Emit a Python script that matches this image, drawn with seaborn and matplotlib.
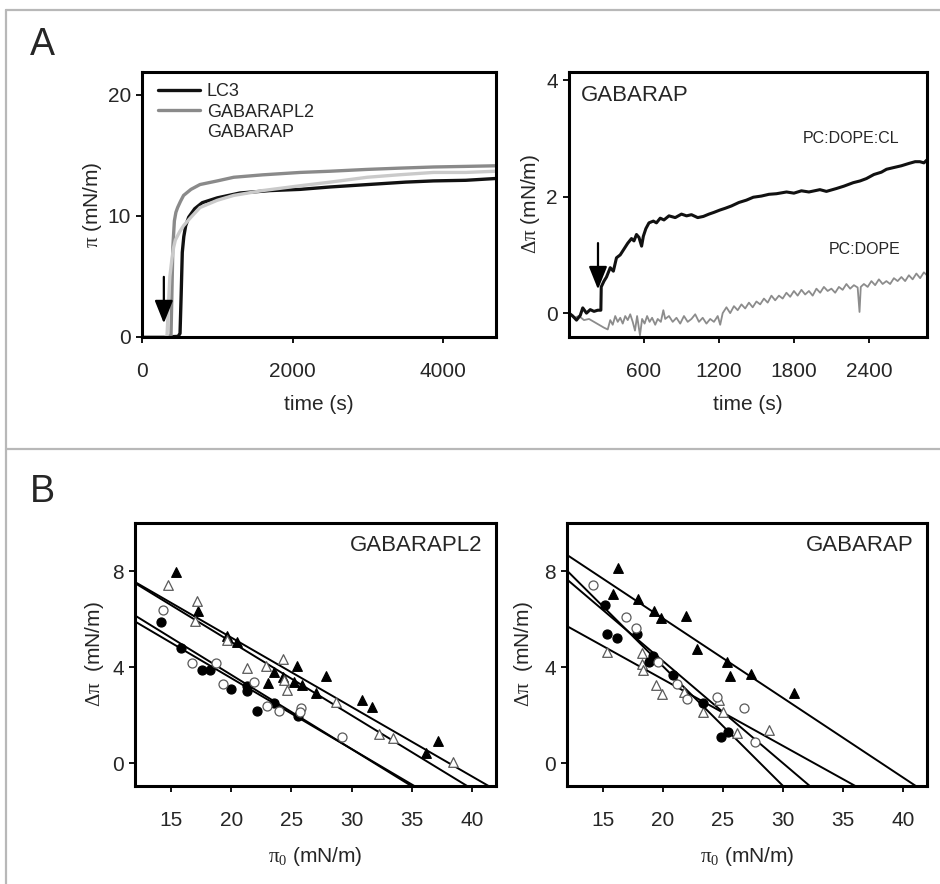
import numpy as np
import matplotlib
matplotlib.use("Agg")
import matplotlib.pyplot as plt
from matplotlib.lines import Line2D
import pandas as pd
import seaborn as sns

sns.set_style("ticks")
plt.rcParams['font.family'] = ['Liberation Sans Narrow', 'Liberation Sans', 'DejaVu Sans']
plt.rcParams['mathtext.fontset'] = 'custom'
plt.rcParams['mathtext.rm'] = 'Liberation Serif'
plt.rcParams['mathtext.it'] = 'Liberation Serif'

# ---- panel A, left: surface pressure kinetics (pi, mN/m) ----
lc3_t = [0, 300, 480, 505, 520, 535, 555, 580, 620, 700, 800, 1000, 1300, 1700,
         2100, 2500, 3000, 3500, 3870, 4300, 4700]
lc3_pi = [0, 0, 0.05, 0.3, 3.5, 7.0, 8.3, 9.2, 9.9, 10.6, 11.1, 11.5, 11.9, 12.1,
          12.2, 12.4, 12.6, 12.8, 12.9, 12.95, 13.1]

l2_t = [0, 300, 385, 395, 410, 430, 450, 473, 510, 552, 650, 770, 1000, 1217,
        1600, 2100, 2500, 2988, 3400, 3870, 4300, 4700]
l2_pi = [0, 0, 0.1, 3.0, 7.5, 9.6, 10.3, 10.7, 11.2, 11.7, 12.2, 12.6, 12.9, 13.2,
         13.4, 13.6, 13.7, 13.85, 13.95, 14.05, 14.1, 14.15]

gab_t = [0, 300, 332, 350, 370, 398, 420, 442, 500, 552, 650, 770, 1000, 1217,
         1600, 2100, 2500, 2988, 3400, 3870, 4300, 4700]
gab_pi = [0, 0, 0.1, 2.5, 5.0, 6.5, 7.4, 8.0, 8.7, 9.2, 9.9, 10.7, 11.3, 11.7,
          12.1, 12.5, 12.8, 13.2, 13.4, 13.6, 13.6, 13.7]

a_left_names = ["LC3", "GABARAPL2", "GABARAP"]
a_left_colors = ["#111111", "#8a8a8a", "#cacaca"]
a_left_inject = 290          # arrow, s
a_left_arrow_pi = (5.2, 0.9)

# ---- panel A, right: GABARAP insertion (delta pi, mN/m) ----
cl_t = [0, 30, 60, 90, 110, 140, 170, 200, 230, 255, 258, 280, 300, 330, 355,
        380, 410, 440, 470, 500, 520, 540, 560, 581, 595, 615, 640, 675, 700,
        730, 760, 800, 850, 900, 941, 980, 1030, 1075, 1120, 1160, 1208, 1250,
        1300, 1360, 1420, 1475, 1540, 1600, 1660, 1741, 1800, 1860, 1920, 2008,
        2060, 2141, 2200, 2275, 2330, 2380, 2440, 2500, 2541, 2600, 2660, 2720,
        2770, 2808, 2840, 2865]
cl_dpi = [0.0, -0.05, -0.12, -0.04, 0.09, 0.0, 0.06, 0.03, 0.05, 0.05, 0.45,
          0.55, 0.62, 0.78, 0.72, 0.95, 1.0, 1.1, 1.2, 1.28, 1.24, 1.35, 1.3,
          1.15, 1.32, 1.45, 1.55, 1.58, 1.55, 1.63, 1.6, 1.67, 1.64, 1.7, 1.67,
          1.69, 1.64, 1.66, 1.7, 1.73, 1.77, 1.8, 1.84, 1.9, 1.94, 1.99, 2.01,
          2.04, 2.05, 2.08, 2.06, 2.1, 2.08, 2.12, 2.09, 2.14, 2.18, 2.24,
          2.27, 2.31, 2.38, 2.42, 2.47, 2.5, 2.53, 2.57, 2.6, 2.6, 2.58, 2.63]

dope_t = [0, 40, 80, 120, 160, 200, 240, 280, 310, 330, 350, 370, 390, 410,
          430, 450, 470, 490, 510, 528, 545, 568, 585, 605, 625, 645, 665, 690,
          710, 735, 755, 770, 800, 830, 860, 890, 920, 950, 980, 1010, 1040,
          1070, 1100, 1130, 1160, 1190, 1210, 1230, 1260, 1290, 1320, 1350,
          1380, 1410, 1440, 1470, 1500, 1530, 1560, 1590, 1620, 1650, 1680,
          1710, 1740, 1770, 1800, 1830, 1860, 1890, 1920, 1950, 1980, 2010,
          2040, 2070, 2100, 2130, 2160, 2190, 2220, 2250, 2280, 2310, 2325,
          2335, 2360, 2390, 2420, 2450, 2480, 2510, 2540, 2570, 2600, 2630,
          2660, 2690, 2720, 2750, 2780, 2810, 2840, 2865]
dope_dpi = [-0.02, -0.08, -0.05, -0.12, -0.1, -0.15, -0.2, -0.25, -0.28,
            -0.12, -0.2, -0.05, -0.15, -0.08, -0.18, -0.05, -0.12, -0.02,
            -0.15, -0.3, -0.05, -0.38, -0.1, -0.18, -0.05, -0.15, -0.08, -0.2,
            -0.1, -0.15, 0.05, -0.1, -0.05, -0.15, -0.08, -0.18, -0.05, -0.15,
            -0.1, -0.02, -0.15, -0.08, -0.18, -0.1, -0.15, -0.05, -0.2, 0.0,
            0.1, 0.0, 0.12, 0.05, 0.15, 0.08, 0.18, 0.1, 0.2, 0.15, 0.25, 0.18,
            0.3, 0.22, 0.3, 0.25, 0.35, 0.28, 0.38, 0.3, 0.4, 0.32, 0.38, 0.3,
            0.42, 0.35, 0.45, 0.38, 0.42, 0.35, 0.45, 0.4, 0.5, 0.42, 0.48,
            0.44, 0.02, 0.45, 0.5, 0.45, 0.55, 0.48, 0.58, 0.5, 0.55, 0.5, 0.6,
            0.55, 0.62, 0.55, 0.65, 0.58, 0.68, 0.6, 0.7, 0.65]
a_right_inject = 232
a_right_arrow_dpi = (1.25, 0.36)

# ---- panel B: delta pi vs initial pressure pi0 ----
l2_ftri_x = [15.38, 17.26, 19.62, 20.45, 23.55, 23.03, 25.44, 25.2, 25.9, 24.28,
             27.85, 27.05, 30.9, 31.67, 37.16, 36.16]
l2_ftri_y = [7.94, 6.35, 5.31, 5.03, 3.81, 3.33, 4.05, 3.36, 3.25, 3.6,
             3.64, 2.92, 2.63, 2.32, 0.93, 0.42]
l2_otri_x = [14.77, 17.13, 17.01, 19.67, 21.28, 22.89, 24.33, 24.39, 24.61,
             28.68, 32.31, 33.47, 38.46]
l2_otri_y = [7.43, 6.74, 5.93, 5.13, 3.95, 4.03, 4.33, 3.47, 3.03,
             2.53, 1.21, 1.03, 0.03]
l2_fcir_x = [14.13, 15.82, 17.54, 18.23, 19.99, 21.34, 21.34, 22.12, 23.55, 25.58]
l2_fcir_y = [5.89, 4.79, 3.89, 3.89, 3.08, 3.22, 2.99, 2.18, 2.5, 1.97]
l2_ocir_x = [14.35, 16.77, 18.73, 19.29, 21.92, 22.95, 23.97, 25.8, 25.7, 29.18]
l2_ocir_y = [6.39, 4.19, 4.19, 3.29, 3.39, 2.39, 2.18, 2.28, 2.14, 1.07]
# fitted lines: x-intercept (max. insertion pressure) and slope
l2_mip = [38.1, 36.5, 31.9, 32.0]
l2_slope = [-0.289, -0.306, -0.309, -0.295]

gb_ftri_x = [16.28, 15.81, 17.89, 19.28, 19.81, 21.89, 22.81, 25.31, 25.58, 27.31, 30.92]
gb_ftri_y = [8.11, 7.03, 6.82, 6.35, 6.03, 6.13, 4.75, 4.22, 3.64, 3.71, 2.93]
gb_otri_x = [15.36, 18.22, 18.22, 18.36, 19.39, 19.89, 21.78, 24.69, 23.36, 25.03,
             26.19, 28.83]
gb_otri_y = [4.64, 4.57, 4.11, 3.9, 3.25, 2.9, 2.95, 2.65, 2.14, 2.14, 1.24, 1.4]
gb_fcir_x = [15.17, 15.36, 16.19, 17.81, 19.19, 18.86, 20.81, 23.36, 25.44, 24.81]
gb_fcir_y = [6.58, 5.38, 5.2, 5.38, 4.46, 4.2, 3.69, 2.51, 1.31, 1.1]
gb_ocir_x = [14.19, 16.92, 17.75, 19.61, 21.19, 22.03, 24.47, 26.75, 27.67]
gb_ocir_y = [7.42, 6.07, 5.61, 4.22, 3.29, 2.69, 2.74, 2.28, 0.89]
gb_mip = [38.2, 32.6, 28.1, 30.0]
gb_slope = [-0.331, -0.277, -0.498, -0.425]

TICK_FS = 15
LABEL_FS = 15
SANS = ['Liberation Sans', 'DejaVu Sans']
ARROW = dict(arrowstyle='-|>,head_width=0.4,head_length=1.0', color='black',
             lw=1.6, mutation_scale=14)


def style_box(ax):
    for s in ax.spines.values():
        s.set_visible(True)
        s.set_linewidth(2.2)
        s.set_color('black')
    ax.tick_params(direction='out', length=4, width=1.3, labelsize=TICK_FS,
                   color='black')
    ax.tick_params(axis='x', pad=14)
    ax.tick_params(axis='y', pad=4)


def plot_kinetics(ax):
    df = pd.concat([
        pd.DataFrame({'t': lc3_t, 'pi': lc3_pi, 'protein': 'LC3'}),
        pd.DataFrame({'t': l2_t, 'pi': l2_pi, 'protein': 'GABARAPL2'}),
        pd.DataFrame({'t': gab_t, 'pi': gab_pi, 'protein': 'GABARAP'}),
    ])
    sns.lineplot(data=df, x='t', y='pi', hue='protein', hue_order=a_left_names,
                 palette=a_left_colors, estimator=None, sort=False, lw=2.4,
                 legend=False, ax=ax)
    ax.set_xlim(0, 4700)
    ax.set_ylim(0, 21.9)
    ax.set_xticks([0, 2000, 4000])
    ax.set_yticks([0, 10, 20])
    ax.annotate('', xy=(a_left_inject, a_left_arrow_pi[1]),
                xytext=(a_left_inject, a_left_arrow_pi[0]), arrowprops=ARROW)
    handles = [Line2D([], [], color=c, lw=2.4) for c in a_left_colors]
    handles[2].set_color('none')
    ax.legend(handles, a_left_names, loc='upper left', frameon=False,
              bbox_to_anchor=(0.025, 0.985), borderaxespad=0,
              handlelength=2.3, handletextpad=0.4, labelspacing=0.2,
              prop={'family': SANS, 'size': 13})
    ax.set_xlabel('time (s)', fontsize=LABEL_FS)
    ax.set_ylabel(r'$\pi$ (mN/m)', fontsize=LABEL_FS)
    style_box(ax)


def plot_insertion(ax):
    df = pd.concat([
        pd.DataFrame({'t': cl_t, 'dpi': cl_dpi, 'lipid': 'PC:DOPE:CL'}),
        pd.DataFrame({'t': dope_t, 'dpi': dope_dpi, 'lipid': 'PC:DOPE'}),
    ])
    sns.lineplot(data=df[df.lipid == 'PC:DOPE'], x='t', y='dpi', color='#8c8c8c',
                 estimator=None, sort=False, lw=1.3, ax=ax)
    sns.lineplot(data=df[df.lipid == 'PC:DOPE:CL'], x='t', y='dpi', color='#111111',
                 estimator=None, sort=False, lw=2.2, ax=ax)
    ax.set_xlim(0, 2865)
    ax.set_ylim(-0.41, 4.14)
    ax.set_xticks([600, 1200, 1800, 2400])
    ax.set_yticks([0, 2, 4])
    ax.annotate('', xy=(a_right_inject, a_right_arrow_dpi[1]),
                xytext=(a_right_inject, a_right_arrow_dpi[0]), arrowprops=ARROW)
    ax.text(0.034, 0.913, 'GABARAP', transform=ax.transAxes, ha='left',
            va='center', fontsize=16, family=SANS)
    ax.text(2640, 3.0, 'PC:DOPE:CL', ha='right', va='center', fontsize=11.5,
            family=SANS)
    ax.text(2650, 1.1, 'PC:DOPE', ha='right', va='center', fontsize=11.5,
            family=SANS)
    ax.set_xlabel('time (s)', fontsize=LABEL_FS)
    ax.set_ylabel(r'$\Delta\pi$ (mN/m)', fontsize=LABEL_FS)
    style_box(ax)


def plot_mip(ax, series, mips, slopes, title):
    # series: (x, y, marker, face, edge)
    for (x, y, marker, face, edge), mip, slope in zip(series, mips, slopes):
        sns.scatterplot(x=x, y=y, marker=marker, color=face, edgecolor=edge,
                        linewidth=0.9, s=48 if marker == '^' else 42, ax=ax,
                        zorder=3)
        ax.axline((mip, 0), slope=slope, color='black', lw=1.4, zorder=2)
    ax.set_xlim(12, 42)
    ax.set_ylim(-0.95, 10)
    ax.set_xticks([15, 20, 25, 30, 35, 40])
    ax.set_yticks([0, 4, 8])
    ax.text(0.963, 0.915, title, transform=ax.transAxes, ha='right',
            va='center', fontsize=16, family=SANS)
    ax.set_xlabel(r'$\pi_0$ (mN/m)', fontsize=LABEL_FS)
    ax.set_ylabel(r'$\Delta\pi$  (mN/m)', fontsize=LABEL_FS)
    style_box(ax)


def main():
    fig = plt.figure(figsize=(9.4, 8.84), dpi=100)
    W, H = 940.0, 884.0

    def axes_px(x0, x1, y0, y1):
        return fig.add_axes([x0 / W, 1 - y1 / H, (x1 - x0) / W, (y1 - y0) / H])

    ax1 = axes_px(142, 496, 72, 337)
    ax2 = axes_px(569, 927, 72, 337)
    ax3 = axes_px(135, 496, 523, 786)
    ax4 = axes_px(567, 927, 523, 786)

    plot_kinetics(ax1)
    plot_insertion(ax2)

    open_edge = '#5a5a5a'
    plot_mip(ax3, [(l2_ftri_x, l2_ftri_y, '^', 'black', 'black'),
                   (l2_otri_x, l2_otri_y, '^', 'white', open_edge),
                   (l2_fcir_x, l2_fcir_y, 'o', 'black', 'black'),
                   (l2_ocir_x, l2_ocir_y, 'o', 'white', open_edge)],
             l2_mip, l2_slope, 'GABARAPL2')
    plot_mip(ax4, [(gb_ftri_x, gb_ftri_y, '^', 'black', 'black'),
                   (gb_otri_x, gb_otri_y, '^', 'white', open_edge),
                   (gb_fcir_x, gb_fcir_y, 'o', 'black', 'black'),
                   (gb_ocir_x, gb_ocir_y, 'o', 'white', open_edge)],
             gb_mip, gb_slope, 'GABARAP')

    # label positions (axes coords)
    ax1.yaxis.set_label_coords(-0.108, 0.5)
    ax2.yaxis.set_label_coords(-0.075, 0.5)
    ax3.yaxis.set_label_coords(-0.08, 0.5)
    ax4.yaxis.set_label_coords(-0.089, 0.5)
    for ax in (ax1, ax2):
        ax.xaxis.set_label_coords(0.5, -0.219)
    for ax in (ax3, ax4):
        ax.xaxis.set_label_coords(0.5, -0.224)

    # figure frame lines
    frame = dict(transform=fig.transFigure, color='#b8b8b8', lw=1.6)
    fig.add_artist(Line2D([6 / W, 1], [1 - 10 / H] * 2, **frame))
    fig.add_artist(Line2D([6 / W, 1], [1 - 449 / H] * 2, **frame))
    fig.add_artist(Line2D([6 / W] * 2, [0, 1 - 10 / H], **frame))

    fig.text(42 / W, 1 - 45 / H, 'A', fontsize=27, ha='center', va='center')
    fig.text(42 / W, 1 - 492 / H, 'B', fontsize=27, ha='center', va='center')

    fig.savefig('out.png', dpi=100, facecolor='white')


if __name__ == "__main__":
    main()
